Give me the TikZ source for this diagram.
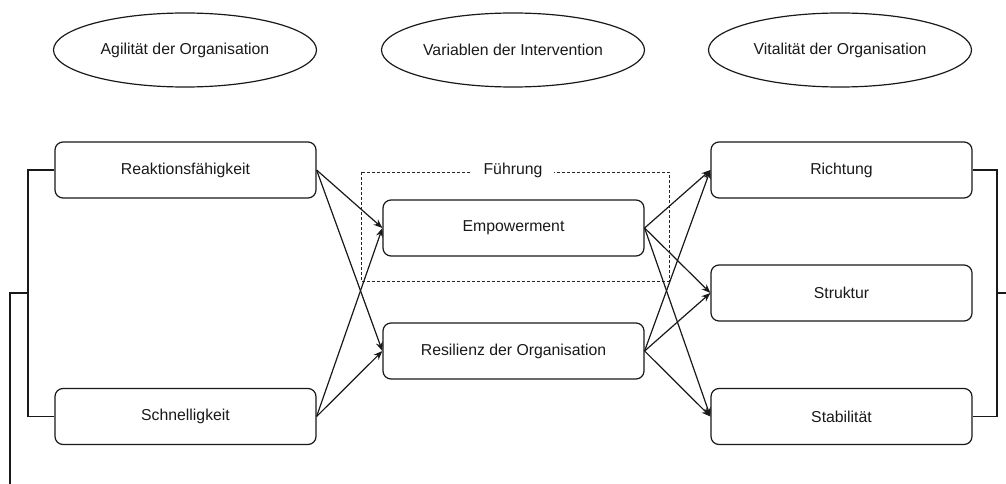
\documentclass[tikz,border=0pt]{standalone}
\usepackage{fontspec}
\setmainfont{Liberation Sans}
\usetikzlibrary{shapes.geometric,arrows.meta}
\begin{document}
\begin{tikzpicture}[x=1pt,y=-1pt,
  every node/.style={font=\fontsize{15.8}{18}\selectfont, text=black!90},
  oval/.style={ellipse, draw=black!90, line width=1.2pt, minimum width=263pt, minimum height=74pt, inner sep=0pt},
  box/.style={rectangle, rounded corners=8pt, draw=black!90, line width=1.2pt, minimum width=261pt, minimum height=56pt, inner sep=0pt},
  conn/.style={draw=black!90, line width=1.2pt},
  arr/.style={conn, -{Stealth[length=9pt,width=7pt]}},
  frame/.style={draw=black!85, line width=1pt, dash pattern=on 3pt off 2pt}
]
\useasboundingbox (0,0) rectangle (1006,484);
\node[oval] (o1) at (185,50) {\raisebox{-3pt}{Agilität der Organisation}};
\node[oval] (o2) at (513,50) {\raisebox{-3pt}{Variablen der Intervention}};
\node[oval] (o3) at (840,50) {\raisebox{-3pt}{Vitalität der Organisation}};

\node[box] (rf) at (185.5,170) {Reaktionsfähigkeit};
\node[box] (sg) at (185.5,416.5) {Schnelligkeit};
\node[box] (em) at (513.5,228) {Empowerment};
\node[box] (rs) at (513.5,351) {Resilienz der Organisation};
\node[box] (ri) at (841.5,170) {Richtung};
\node[box] (st) at (841.5,293) {Struktur};
\node[box] (sb) at (841.5,416.5) {Stabilität};

% dashed frame Führung
\draw[frame] (361,172) rectangle (669,281);
\node[fill=white, inner xsep=12pt, inner ysep=2pt] (fu) at (513,170) {Führung};

% left bracket
\coordinate (lb1) at (28,170);
\coordinate (lb2) at (28,416.5);
\coordinate (lbm) at (28,293);
\coordinate (lbo) at (10,293);
\coordinate (lbe) at (10,484);
\draw[conn] (rf.west) -- (lb1) -- (lb2) -- (sg.west);
\draw[conn] (lbm) -- (lbo) -- (lbe);

% right bracket
\coordinate (rb1) at (997,170);
\coordinate (rb2) at (997,416.5);
\coordinate (rbm) at (997,293);
\coordinate (rbe) at (1006,293);
\draw[conn] (ri.east) -- (rb1) -- (rb2) -- (sb.east);
\draw[conn] (rbm) -- (rbe);

% arrows left to middle
\draw[arr] (rf.east) -- (em.west);
\draw[arr] (rf.east) -- (rs.west);
\draw[arr] (sg.east) -- (em.west);
\draw[arr] (sg.east) -- (rs.west);

% arrows middle to right
\draw[arr] (em.east) -- (ri.west);
\draw[arr] (em.east) -- (st.west);
\draw[arr] (em.east) -- (sb.west);
\draw[arr] (rs.east) -- (ri.west);
\draw[arr] (rs.east) -- (st.west);
\draw[arr] (rs.east) -- (sb.west);
\end{tikzpicture}
\end{document}
